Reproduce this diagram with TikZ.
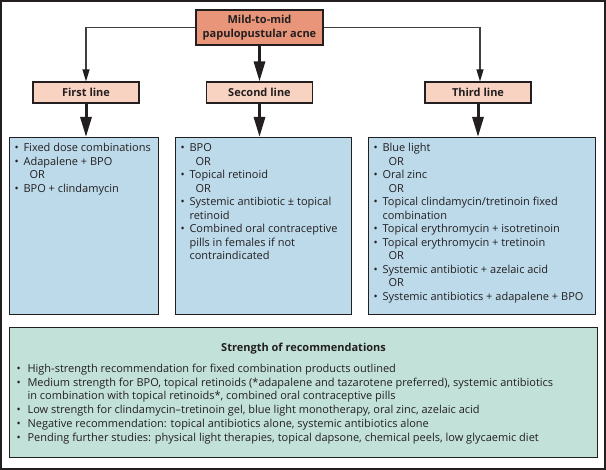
\documentclass[tikz,border=0pt]{standalone}
\usepackage{fontspec}
\setmainfont{Open Sans}
\usetikzlibrary{arrows.meta}
\definecolor{ink}{HTML}{231F20}
\definecolor{salmon}{HTML}{E8957A}
\definecolor{peach}{HTML}{F8D3C2}
\definecolor{bluebg}{HTML}{BCDAEA}
\definecolor{greenbg}{HTML}{C2E1D8}
\newcommand\txtfont{\fontsize{11}{13.5}\selectfont}
\newcommand\bi[1]{\hspace*{5pt}\makebox[9pt][l]{\textbullet}#1\par}
\newcommand\ci[1]{\hspace*{14pt}#1\par}
\newcommand\oi{\hspace*{20pt}OR\par}
\newcommand\gbi[1]{\hspace*{7pt}\makebox[11pt][l]{\textbullet}#1\par}
\newcommand\gci[1]{\hspace*{18pt}#1\par}
\begin{document}
\begin{tikzpicture}[x=1pt,y=-1pt,
  every node/.style={text=ink, font=\txtfont},
  topbox/.style={draw=ink, line width=1.1pt, fill=salmon, minimum width=127pt, minimum height=35pt, inner sep=0pt, align=center, font=\txtfont\bfseries},
  linebox/.style={draw=ink, line width=1.1pt, fill=peach, minimum width=106pt, minimum height=21pt, inner sep=0pt, font=\txtfont\bfseries},
  listbox/.style={draw=ink, line width=1.1pt, fill=bluebg, inner sep=0pt, anchor=north west},
  recbox/.style={draw=ink, line width=1.1pt, fill=greenbg, inner sep=0pt, anchor=north west},
  thinarrow/.style={draw=black!75, line width=1.1pt, -{Triangle[length=12pt,width=7pt,color=ink]}},
  thickarrow/.style={draw=ink, line width=3pt, -{Triangle[length=20pt,width=11pt]}}
]
\useasboundingbox (0,0) rectangle (606,470);
\draw[ink, line width=1.3pt] (1,1) rectangle (605,469);

\node[topbox] (top) at (259.5,27.5) {Mild-to-mid\\papulopustular acne};
\node[linebox] (l1) at (86,92.5) {First line};
\node[linebox] (l2) at (259.5,92.5) {Second line};
\node[linebox] (l3) at (478,92.5) {Third line};

\node[listbox] (b1) at (9,137) {\parbox[c][177pt][t]{149pt}{\txtfont\raggedright
\bi{\rule{0pt}{14pt}Fixed dose combinations}
\bi{Adapalene + BPO}
\oi
\bi{BPO + clindamycin}}};

\node[listbox] (b2) at (175,137) {\parbox[c][177pt][t]{176pt}{\txtfont\raggedright
\bi{\rule{0pt}{14pt}BPO}
\oi
\bi{Topical retinoid}
\oi
\bi{Systemic antibiotic ± topical}
\ci{retinoid}
\bi{Combined oral contraceptive}
\ci{pills in females if not}
\ci{contraindicated}}};

\node[listbox] (b3) at (368,137) {\parbox[c][177pt][t]{227pt}{\txtfont\raggedright
\bi{\rule{0pt}{14pt}Blue light}
\oi
\bi{Oral zinc}
\oi
\bi{Topical clindamycin/tretinoin fixed}
\ci{combination}
\bi{Topical erythromycin + isotretinoin}
\bi{Topical erythromycin + tretinoin}
\oi
\bi{Systemic antibiotic + azelaic acid}
\oi
\bi{Systemic antibiotics + adapalene + BPO}}};

\node[recbox] (rec) at (9,327) {\parbox[c][130pt][t]{588pt}{\fontsize{11}{13.8}\selectfont
{\centering\rule{0pt}{24pt}\textbf{Strength of recommendations}\par}
\vspace{7pt}\raggedright
\gbi{High-strength recommendation for fixed combination products outlined}
\gbi{Medium strength for BPO, topical retinoids (*adapalene and tazarotene preferred), systemic antibiotics}
\gci{in combination with topical retinoids*, combined oral contraceptive pills}
\gbi{Low strength for clindamycin–tretinoin gel, blue light monotherapy, oral zinc, azelaic acid}
\gbi{Negative recommendation: topical antibiotics alone, systemic antibiotics alone}
\gbi{Pending further studies: physical light therapies, topical dapsone, chemical peels, low glycaemic diet}}};

\draw[thinarrow] (top.west) -| (l1.north);
\draw[thinarrow] (top.east) -| ([xshift=2pt]l3.north);
\draw[thickarrow] (top.south) -- (l2.north);
\draw[thickarrow] (l1.south) -- (l1.south |- b1.north);
\draw[thickarrow] (l2.south) -- (l2.south |- b2.north);
\draw[thickarrow] (l3.south) -- (l3.south |- b3.north);
\end{tikzpicture}
\end{document}
